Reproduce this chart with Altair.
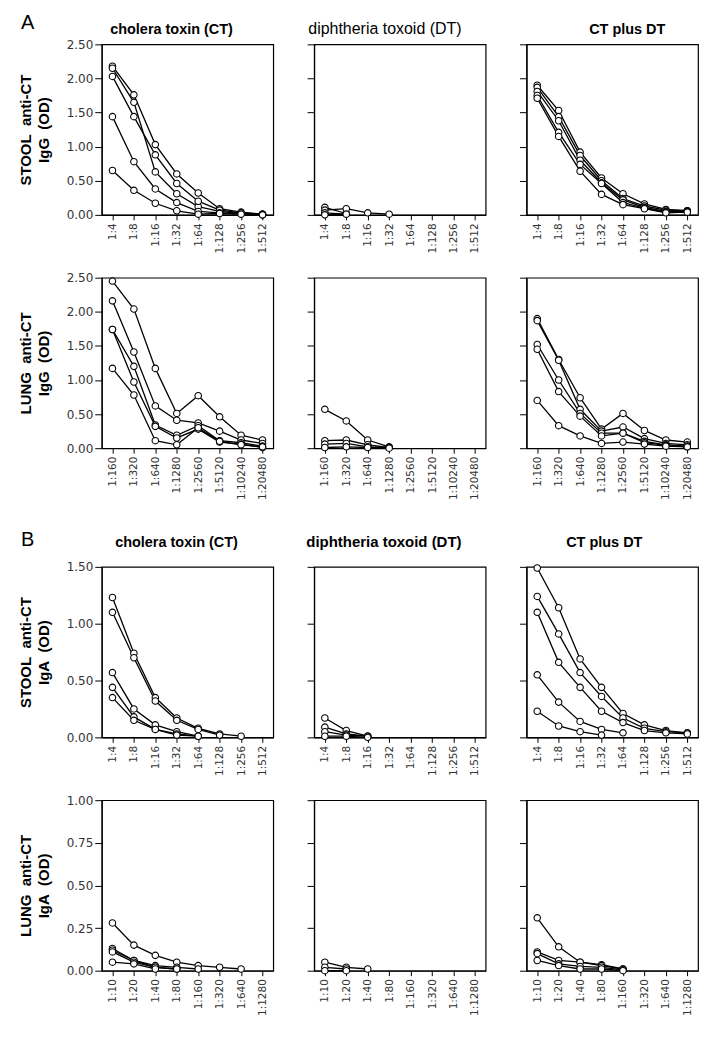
import altair as alt
import pandas as pd

# ---------------- data ----------------
dil_stool = ["1:4", "1:8", "1:16", "1:32", "1:64", "1:128", "1:256", "1:512"]
dil_lung_igg = ["1:160", "1:320", "1:640", "1:1280", "1:2560", "1:5120", "1:10240", "1:20480"]
dil_lung_iga = ["1:10", "1:20", "1:40", "1:80", "1:160", "1:320", "1:640", "1:1280"]

col_titles = ["cholera toxin (CT)", "diphtheria toxoid (DT)", "CT plus DT"]
ytitle_stool_igg = ["STOOL\u00a0 anti-CT", "IgG\u00a0 (OD)"]
ytitle_lung_igg = ["LUNG\u00a0 anti-CT", "IgG\u00a0 (OD)"]
ytitle_stool_iga = ["STOOL\u00a0 anti-CT", "IgA\u00a0 (OD)"]
ytitle_lung_iga = ["LUNG\u00a0 anti-CT", "IgA\u00a0 (OD)"]

# A: stool IgG
stool_igg_ct_1 = [2.18, 1.76, 1.03, 0.60, 0.32, 0.09, 0.04, 0.01]
stool_igg_ct_2 = [2.15, 1.65, 0.63, 0.31, 0.12, 0.05, 0.02, 0.01]
stool_igg_ct_3 = [2.03, 1.44, 0.88, 0.46, 0.20, 0.07, 0.03, 0.01]
stool_igg_ct_4 = [1.44, 0.78, 0.38, 0.18, 0.05, 0.03, 0.01, 0.00]
stool_igg_ct_5 = [0.65, 0.36, 0.17, 0.06, 0.01, 0.02, 0.01, 0.00]

stool_igg_dt_1 = [0.11, 0.02]
stool_igg_dt_2 = [0.07, 0.09, 0.03, 0.01]
stool_igg_dt_3 = [0.03, 0.01]
stool_igg_dt_4 = [0.00, 0.01]

stool_igg_ctdt_1 = [1.90, 1.53, 0.92, 0.54, 0.31, 0.16, 0.08, 0.06]
stool_igg_ctdt_2 = [1.87, 1.44, 0.87, 0.50, 0.24, 0.13, 0.07, 0.06]
stool_igg_ctdt_3 = [1.81, 1.38, 0.80, 0.47, 0.22, 0.11, 0.05, 0.05]
stool_igg_ctdt_4 = [1.75, 1.21, 0.74, 0.46, 0.18, 0.10, 0.04, 0.05]
stool_igg_ctdt_5 = [1.71, 1.15, 0.64, 0.30, 0.15, 0.09, 0.03, 0.04]

# A: lung IgG
lung_igg_ct_1 = [2.45, 2.04, 1.17, 0.51, 0.77, 0.46, 0.19, 0.12]
lung_igg_ct_2 = [2.16, 1.41, 0.62, 0.41, 0.37, 0.25, 0.12, 0.07]
lung_igg_ct_3 = [1.74, 1.20, 0.34, 0.19, 0.33, 0.11, 0.08, 0.03]
lung_igg_ct_4 = [1.74, 0.97, 0.32, 0.15, 0.28, 0.09, 0.06, 0.01]
lung_igg_ct_5 = [1.17, 0.78, 0.11, 0.05, 0.30, 0.10, 0.05, 0.02]

lung_igg_dt_1 = [0.57, 0.40, 0.12, 0.02]
lung_igg_dt_2 = [0.11, 0.12, 0.05, 0.01]
lung_igg_dt_3 = [0.06, 0.07, 0.02, 0.01]
lung_igg_dt_4 = [0.01, 0.02, 0.01, 0.00]

lung_igg_ctdt_1 = [1.90, 1.30, 0.74, 0.28, 0.51, 0.26, 0.12, 0.09]
lung_igg_ctdt_2 = [1.87, 1.29, 0.57, 0.25, 0.31, 0.14, 0.07, 0.05]
lung_igg_ctdt_3 = [1.52, 1.00, 0.51, 0.22, 0.22, 0.10, 0.05, 0.03]
lung_igg_ctdt_4 = [1.45, 0.83, 0.47, 0.18, 0.22, 0.08, 0.04, 0.02]
lung_igg_ctdt_5 = [0.70, 0.33, 0.18, 0.07, 0.09, 0.06, 0.03, 0.02]

# B: stool IgA
stool_iga_ct_1 = [1.23, 0.74, 0.35, 0.17, 0.08, 0.03, 0.01]
stool_iga_ct_2 = [1.10, 0.70, 0.32, 0.15, 0.07, 0.02]
stool_iga_ct_3 = [0.57, 0.25, 0.11, 0.05, 0.01]
stool_iga_ct_4 = [0.44, 0.18, 0.07, 0.03, 0.01]
stool_iga_ct_5 = [0.35, 0.15, 0.07, 0.02, 0.01]

stool_iga_dt_1 = [0.17, 0.06, 0.01]
stool_iga_dt_2 = [0.09, 0.03, 0.01]
stool_iga_dt_3 = [0.05, 0.02, 0.01]
stool_iga_dt_4 = [0.01, 0.01, 0.00]

stool_iga_ctdt_1 = [1.49, 1.14, 0.69, 0.44, 0.21, 0.11, 0.06, 0.04]
stool_iga_ctdt_2 = [1.24, 0.91, 0.57, 0.36, 0.17, 0.08, 0.05, 0.04]
stool_iga_ctdt_3 = [1.10, 0.66, 0.44, 0.23, 0.13, 0.06, 0.04, 0.03]
stool_iga_ctdt_4 = [0.55, 0.31, 0.14, 0.07, 0.04]
stool_iga_ctdt_5 = [0.23, 0.10, 0.05, 0.02]

# B: lung IgA
lung_iga_ct_1 = [0.28, 0.15, 0.09, 0.05, 0.03, 0.02, 0.01]
lung_iga_ct_2 = [0.13, 0.06, 0.03, 0.02, 0.01]
lung_iga_ct_3 = [0.12, 0.06, 0.02, 0.01]
lung_iga_ct_4 = [0.11, 0.05, 0.02, 0.01]
lung_iga_ct_5 = [0.05, 0.04, 0.01]

lung_iga_dt_1 = [0.05, 0.02, 0.01]
lung_iga_dt_2 = [0.02, 0.01]
lung_iga_dt_3 = [0.00, 0.00]

lung_iga_ctdt_1 = [0.31, 0.14, 0.05, 0.035, 0.01]
lung_iga_ctdt_2 = [0.11, 0.06, 0.05, 0.03, 0.01]
lung_iga_ctdt_3 = [0.10, 0.04, 0.025, 0.02, 0.005]
lung_iga_ctdt_4 = [0.06, 0.03, 0.01, 0.01, 0.00]

# ---------------- drawing ----------------
W, H = 172, 171
LABEL_FONT = "DejaVu Sans"
TITLE_FONT = "Liberation Sans"


def label_layer(text, x, y, size, weight="bold", align="center"):
    return alt.Chart(pd.DataFrame({"t": [text]})).mark_text(
        font=TITLE_FONT, fontSize=size, fontWeight=weight, align=align,
        baseline="alphabetic", color="black"
    ).encode(x=alt.value(x), y=alt.value(y), text="t:N")


def panel(dils, series, ymax, yvals, first_col, ytitle=None, title=None,
          title_weight="bold", title_size=14.5, title_x=86, title_y=-10,
          letter=None, letter_y=-15):
    rows = []
    for si, s in enumerate(series):
        for i, (d, v) in enumerate(zip(dils, s)):
            rows.append({"dil": d, "od": v, "s": si, "i": i})
    df = pd.DataFrame(rows)
    x = alt.X("dil:N", sort=dils,
              scale=alt.Scale(domain=dils, type="point", padding=0.5),
              axis=alt.Axis(labelAngle=-90, title=None, tickSize=5, labelPadding=3,
                            labelFont=LABEL_FONT, labelFontSize=10.5, labelColor="#333"))
    if first_col:
        yaxis = alt.Axis(values=yvals, format=".2f", tickSize=7, labelPadding=2,
                         labels=True, labelFont=LABEL_FONT, labelFontSize=12,
                         labelColor="#333", grid=False, title=ytitle,
                         titleFont=TITLE_FONT, titleFontSize=15, titleFontWeight="bold",
                         titleLineHeight=18, titlePadding=15, titleColor="black")
    else:
        yaxis = alt.Axis(values=yvals, format=".2f", tickSize=7, labels=False,
                         title=None, grid=False)
    y = alt.Y("od:Q", scale=alt.Scale(domain=[0, ymax], nice=False, zero=True), axis=yaxis)
    base = alt.Chart(df)
    line = base.mark_line(color="black", strokeWidth=1.3).encode(
        x=x, y=y, detail="s:N", order="i:Q")
    pts = base.mark_point(shape="circle", filled=True, fill="white", stroke="black",
                          strokeWidth=1.1, size=42, opacity=1).encode(x=x, y=y)
    layers = [line, pts]
    if title:
        layers.append(label_layer(title, title_x, title_y, title_size, title_weight))
    if letter:
        layers.append(label_layer(letter, -81, letter_y, 20, "normal", "left"))
    return alt.layer(*layers).properties(width=W, height=H)


igg_vals = [0, 0.5, 1.0, 1.5, 2.0, 2.5]
iga_stool_vals = [0, 0.5, 1.0, 1.5]
iga_lung_vals = [0, 0.25, 0.5, 0.75, 1.0]

row1 = alt.hconcat(
    panel(dil_stool, [stool_igg_ct_1, stool_igg_ct_2, stool_igg_ct_3, stool_igg_ct_4, stool_igg_ct_5],
          2.5, igg_vals, True, ytitle_stool_igg, col_titles[0], title_x=70, letter="A"),
    panel(dil_stool, [stool_igg_dt_1, stool_igg_dt_2, stool_igg_dt_3, stool_igg_dt_4],
          2.5, igg_vals, False, title=col_titles[1], title_weight="normal",
          title_size=16, title_x=71),
    panel(dil_stool, [stool_igg_ctdt_1, stool_igg_ctdt_2, stool_igg_ctdt_3, stool_igg_ctdt_4, stool_igg_ctdt_5],
          2.5, igg_vals, False, title=col_titles[2], title_x=101),
    spacing=41, bounds="flush")

row2 = alt.hconcat(
    panel(dil_lung_igg, [lung_igg_ct_1, lung_igg_ct_2, lung_igg_ct_3, lung_igg_ct_4, lung_igg_ct_5],
          2.5, igg_vals, True, ytitle_lung_igg),
    panel(dil_lung_igg, [lung_igg_dt_1, lung_igg_dt_2, lung_igg_dt_3, lung_igg_dt_4],
          2.5, igg_vals, False),
    panel(dil_lung_igg, [lung_igg_ctdt_1, lung_igg_ctdt_2, lung_igg_ctdt_3, lung_igg_ctdt_4, lung_igg_ctdt_5],
          2.5, igg_vals, False),
    spacing=41, bounds="flush")

row3 = alt.hconcat(
    panel(dil_stool, [stool_iga_ct_1, stool_iga_ct_2, stool_iga_ct_3, stool_iga_ct_4, stool_iga_ct_5],
          1.5, iga_stool_vals, True, ytitle_stool_iga, col_titles[0], title_x=75,
          title_y=-20, letter="B", letter_y=-21),
    panel(dil_stool, [stool_iga_dt_1, stool_iga_dt_2, stool_iga_dt_3, stool_iga_dt_4],
          1.5, iga_stool_vals, False, title=col_titles[1], title_size=15, title_x=70,
          title_y=-20),
    panel(dil_stool, [stool_iga_ctdt_1, stool_iga_ctdt_2, stool_iga_ctdt_3, stool_iga_ctdt_4, stool_iga_ctdt_5],
          1.5, iga_stool_vals, False, title=col_titles[2], title_x=78, title_y=-20),
    spacing=41, bounds="flush")

row4 = alt.hconcat(
    panel(dil_lung_iga, [lung_iga_ct_1, lung_iga_ct_2, lung_iga_ct_3, lung_iga_ct_4, lung_iga_ct_5],
          1.0, iga_lung_vals, True, ytitle_lung_iga),
    panel(dil_lung_iga, [lung_iga_dt_1, lung_iga_dt_2, lung_iga_dt_3],
          1.0, iga_lung_vals, False),
    panel(dil_lung_iga, [lung_iga_ctdt_1, lung_iga_ctdt_2, lung_iga_ctdt_3, lung_iga_ctdt_4],
          1.0, iga_lung_vals, False),
    spacing=41, bounds="flush")

chart = alt.vconcat(
    alt.vconcat(row1, row2, spacing=17),
    alt.vconcat(row3, row4, spacing=17),
    spacing=28,
).properties(
    padding={"left": 9, "top": 3, "right": 5, "bottom": 5}, background="white"
).configure_view(
    stroke="black", strokeWidth=1.2
).configure_axis(
    domainColor="black", tickColor="black", domainWidth=1.2, tickWidth=1, grid=False
)

chart.save("out.html", embed_options={"renderer": "svg", "actions": False})
